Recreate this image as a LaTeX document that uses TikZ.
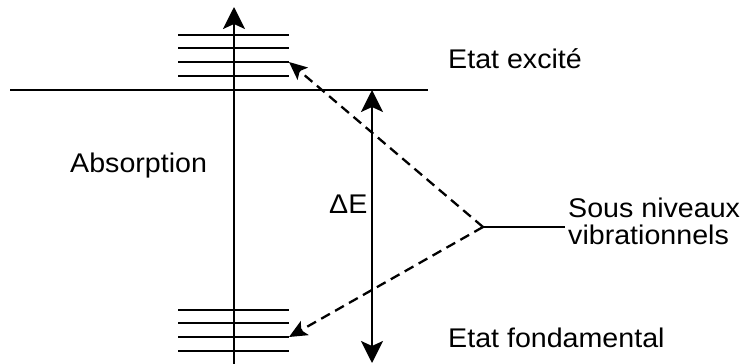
\documentclass[tikz,border=0pt]{standalone}
\usepackage{fontspec}
\setmainfont{Liberation Sans}
\usetikzlibrary{arrows.meta}
\begin{document}
\begin{tikzpicture}[x=1pt,y=-1pt,
  lvl/.style={line width=2.3pt},
  bigarrow/.style={line width=2.3pt,-{Stealth[length=22pt,width=22pt,inset=5pt]}},
  dasharrow/.style={line width=2.3pt,dash pattern=on 10pt off 6pt,-{Stealth[length=18pt,width=16pt,inset=4pt]}},
  lbl/.style={inner sep=0pt,anchor=base west,font=\fontsize{27}{31}\selectfont}]
\useasboundingbox (0,0) rectangle (747,364);
% excited sub-levels
\foreach \y/\n in {35/a,48/b,62/c,76/d}{
  \coordinate (tl\n) at (178,\y); \coordinate (tr\n) at (289,\y);
  \draw[lvl] (tl\n) -- (tr\n);}
% ground sub-levels
\foreach \y/\n in {310/a,323/b,337/c,351/d}{
  \coordinate (bl\n) at (178,\y); \coordinate (br\n) at (289,\y);
  \draw[lvl] (bl\n) -- (br\n);}
% excited state line
\coordinate (eL) at (10,90); \coordinate (eR) at (428,90);
\draw[lvl] (eL) -- (eR);
% absorption arrow
\coordinate (abB) at (234,368); \coordinate (abT) at (234,7);
\draw[bigarrow] (abB) -- (abT);
% Delta E arrow
\coordinate (dT) at (372,90); \coordinate (dB) at (372,363);
\draw[line width=2.3pt,{Stealth[length=22pt,width=22pt,inset=5pt]}-{Stealth[length=22pt,width=22pt,inset=5pt]}] (dT) -- (dB);
% junction
\coordinate (J) at (483,227); \coordinate (JR) at (565,227);
\draw[lvl] (J) -- (JR);
\draw[dasharrow] (J) -- (trc);
\draw[dasharrow] (J) -- (brc);
% labels
\node[lbl] (exc) at (448,68) {\scalebox{1.06}[1]{Etat excité}};
\node[lbl] (abs) at (70,172) {\scalebox{1.06}[1]{Absorption}};
\node[lbl] (de) at (329,213) {\scalebox{1.06}[1]{ΔE}};
\node[lbl] (sn) at (568,217) {\scalebox{1.06}[1]{Sous niveaux}};
\node[lbl] (vib) at (568,244) {\scalebox{1.06}[1]{vibrationnels}};
\node[lbl] (fond) at (448,347) {\scalebox{1.06}[1]{Etat fondamental}};
\end{tikzpicture}
\end{document}
